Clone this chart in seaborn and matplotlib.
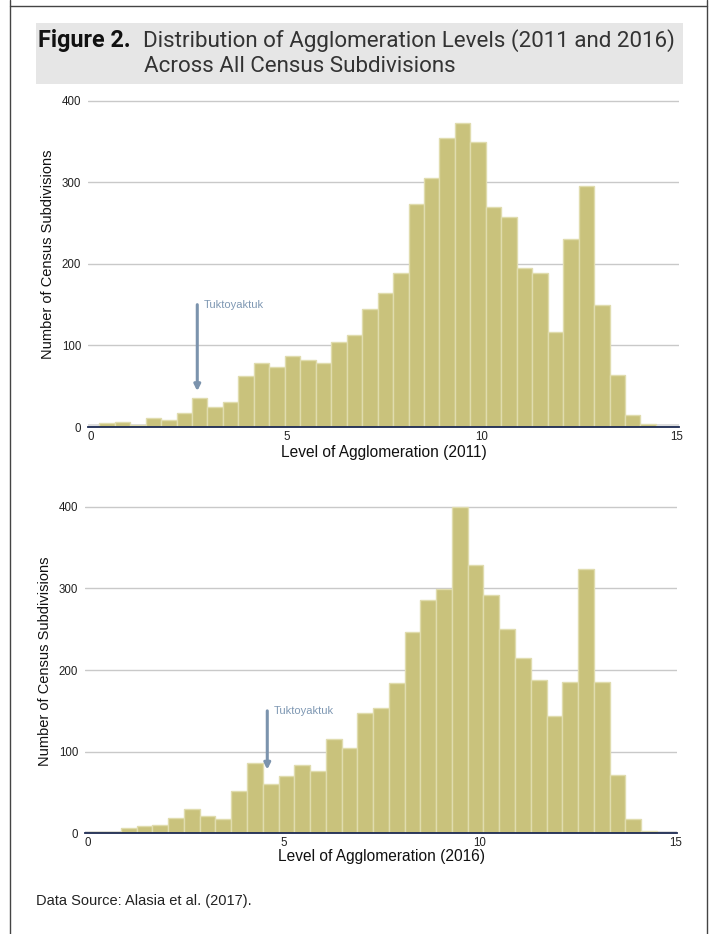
import numpy as np
import pandas as pd
import matplotlib
matplotlib.use("Agg")
import matplotlib.pyplot as plt
import seaborn as sns
from matplotlib.patches import Rectangle
from matplotlib.lines import Line2D

# ---------------- data ----------------
counts_2011 = [5, 6, 3, 11, 9, 17, 35, 25, 31, 63,
               79, 74, 87, 82, 78, 104, 113, 145, 164, 189,
               274, 305, 354, 373, 349, 270, 258, 195, 189, 117,
               230, 296, 150, 64, 15, 4]
bin_start_2011 = 0.21
bin_end_2011 = 14.46

counts_2016 = [2, 2, 7, 9, 10, 19, 30, 21, 17, 52,
               86, 60, 70, 84, 76, 115, 104, 148, 153, 184,
               247, 286, 299, 400, 329, 292, 250, 215, 188, 144,
               185, 324, 185, 72, 18, 3]
bin_start_2016 = 0.05
bin_end_2016 = 14.53

tukt_2011 = 2.72
tukt_2016 = 4.59
tukt_label = "Tuktoyaktuk"

x_ticks = [0, 5, 10, 15]
y_ticks = [0, 100, 200, 300, 400]

title_bold = "Figure 2."
title_rest = "Distribution of Agglomeration Levels (2011 and 2016)"
title_line2 = "Across All Census Subdivisions"
ylabel = "Number of Census Subdivisions"
xlabel_2011 = "Level of Agglomeration (2011)"
xlabel_2016 = "Level of Agglomeration (2016)"
source = "Data Source: Alasia et al. (2017)."

# ---------------- style ----------------
sns.set_style("white")
plt.rcParams["font.family"] = ["Liberation Sans", "DejaVu Sans"]

FILL = "#c9c27c"
EDGE = "#e0dcae"
GRID = "#c9c9c9"
AXIS = "#1c2a52"
ARROW = "#7b93ad"

W, H = 711, 934
fig = plt.figure(figsize=(W / 100, H / 100), dpi=100)


def frac_x(px):
    return px / W


def frac_y(py):
    return 1 - py / H


def make_df(counts, start, end):
    n = len(counts)
    width = (end - start) / n
    centers = [start + width * (i + 0.5) for i in range(n)]
    return pd.DataFrame({"level": centers, "count": counts}), n


def draw_panel(ax, counts, start, end, xlim, arrow_x, arrow_tip, xlabel,
               ylab_y, xlab_y):
    df, n = make_df(counts, start, end)
    ax.axhspan(0, 3.2, color="#dedede", zorder=0.8, lw=0)
    sns.histplot(data=df, x="level", weights="count", bins=n,
                 binrange=(start, end), color=FILL, edgecolor=EDGE,
                 linewidth=1.0, alpha=1, ax=ax, zorder=2)
    ax.set_xlim(*xlim)
    ax.set_ylim(0, 401)
    ax.set_xticks(x_ticks)
    ax.set_yticks(y_ticks)
    ax.yaxis.grid(True, color=GRID, lw=1.0)
    ax.xaxis.grid(False)
    ax.set_axisbelow(True)
    for s in ["top", "right", "left"]:
        ax.spines[s].set_visible(False)
    ax.spines["bottom"].set_color(AXIS)
    ax.spines["bottom"].set_linewidth(1.3)
    ax.spines["bottom"].set_zorder(3)
    ax.tick_params(axis="x", labelsize=8.3, length=4, width=1,
                   direction="inout", color="#333333", pad=1,
                   labelcolor="#222222")
    ax.tick_params(axis="y", labelsize=8.3, length=0, pad=5,
                   labelcolor="#222222")
    ax.set_xlabel(xlabel, fontsize=11.2, color="#111111", va="center")
    ax.xaxis.set_label_coords(0.5, xlab_y)
    ax.set_ylabel(ylabel, fontsize=10.5, color="#111111", va="center")
    ax.yaxis.set_label_coords(-0.068, ylab_y)
    # Tuktoyaktuk arrow
    ax.annotate("", xy=(arrow_x, arrow_tip), xytext=(arrow_x, 150),
                arrowprops=dict(arrowstyle="-|>", color=ARROW, lw=2.2,
                                shrinkA=0, shrinkB=0, mutation_scale=9),
                zorder=5)
    ax.text(arrow_x + 0.17, 150, tukt_label, fontsize=8, color="#7f98b3",
            va="center", ha="left", zorder=5)


# top panel
ax1 = fig.add_axes([frac_x(88), frac_y(427), (679 - 88) / W, 327 / H])
draw_panel(ax1, counts_2011, bin_start_2011, bin_end_2011, (-0.077, 15.05),
           tukt_2011, 44, xlabel_2011, (427 - 254) / 327, (427 - 453) / 327)

# bottom panel
ax2 = fig.add_axes([frac_x(85), frac_y(833.3), (677.3 - 85) / W, 327.3 / H])
draw_panel(ax2, counts_2016, bin_start_2016, bin_end_2016, (-0.06, 15.05),
           tukt_2016, 78, xlabel_2016, (833.3 - 661) / 327.3,
           (833.3 - 857) / 327.3)

# ---------------- title block ----------------
fig.add_artist(Rectangle((frac_x(36), frac_y(84)), (683 - 36) / W, (84 - 23) / H,
                         transform=fig.transFigure, facecolor="#e6e6e6",
                         edgecolor="none", zorder=0))
fig.text(frac_x(38), frac_y(46.7), title_bold, fontsize=16.8,
         fontweight="bold", family=["Roboto", "DejaVu Sans"],
         va="baseline", ha="left", color="#111111")
fig.text(frac_x(143), frac_y(46.7), title_rest, fontsize=16.1,
         family=["Roboto", "DejaVu Sans"], va="baseline", ha="left",
         color="#333333")
fig.text(frac_x(144), frac_y(71.7), title_line2, fontsize=16.1,
         family=["Roboto", "DejaVu Sans"], va="baseline", ha="left",
         color="#333333")

# source note
fig.text(frac_x(36), frac_y(901), source, fontsize=10.5,
         family=["Liberation Sans", "DejaVu Sans"],
         va="center", ha="left", color="#222222")

# frame lines
for xs, ys in [([10, 10], [0, 934]), ([707, 707], [0, 934]), ([10, 707], [6, 6])]:
    fig.add_artist(Line2D([frac_x(v) for v in xs], [frac_y(v) for v in ys],
                          transform=fig.transFigure, color="#444444", lw=1.0))

fig.savefig("out.png", dpi=100)
